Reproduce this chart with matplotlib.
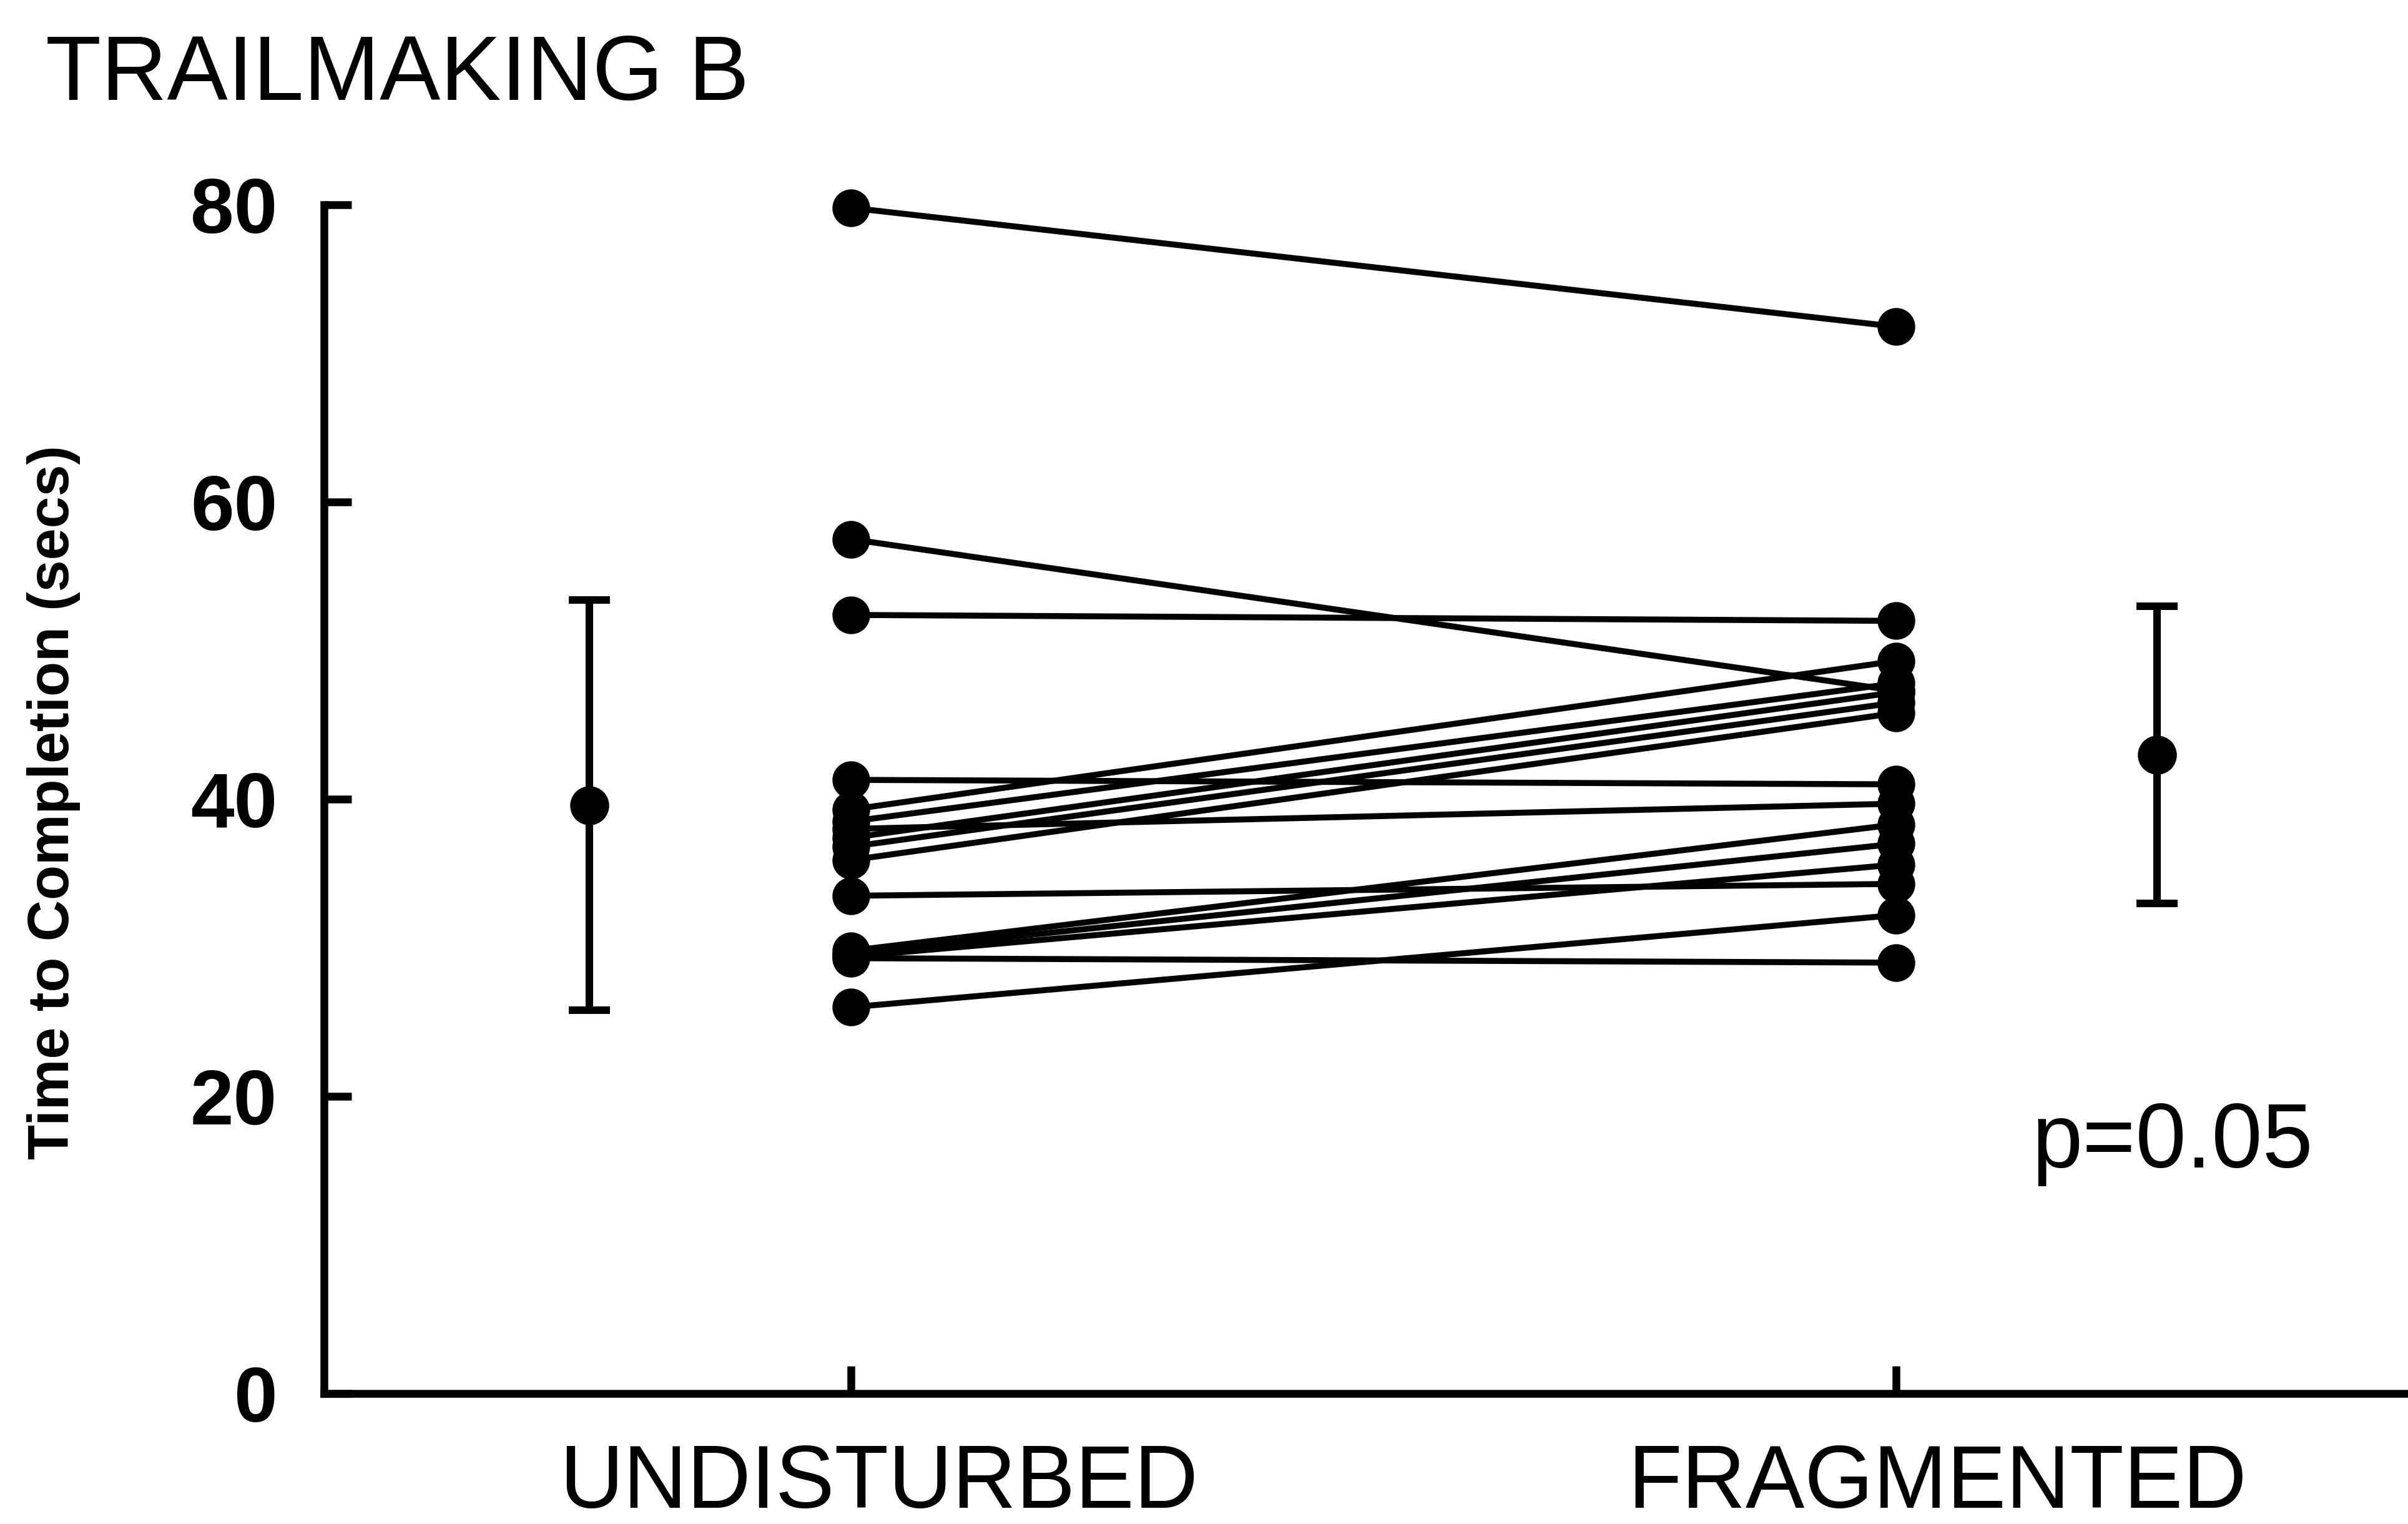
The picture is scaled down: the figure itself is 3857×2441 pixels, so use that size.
import matplotlib
matplotlib.use("Agg")
import matplotlib.pyplot as plt
import matplotlib.transforms as mtransforms

plt.rcParams['font.family'] = ['Liberation Sans', 'DejaVu Sans']

# ---- data ----
conditions = ["UNDISTURBED", "FRAGMENTED"]
undisturbed = [79.8, 57.5, 52.4, 41.3, 39.3, 38.5, 37.4, 36.8, 35.9, 38.0,
               33.5, 29.8, 29.6, 29.4, 29.3, 26.0]
fragmented = [71.8, 47.3, 52.0, 41.0, 49.3, 47.8, 47.2, 46.5, 45.8, 39.7,
              34.3, 38.3, 37.0, 35.6, 29.0, 32.2]
group_means = [39.6, 43.0]
group_sd = [13.8, 10.0]
yticks = [0, 20, 40, 60, 80]
title = "TRAILMAKING B"
ylabel = "Time to Completion (secs)"
p_text = "p=0.05"

# ---- figure ----
fig = plt.figure(figsize=(3857 / 300, 2441 / 300), dpi=300)
ax = fig.add_axes([0.1346, 0.0856, 1 - 0.1346, 0.78])

cond_x = [1, 2]
mean_x = [0.75, 2.25]

for u, f in zip(undisturbed, fragmented):
    ax.plot(cond_x, [u, f], color='black', lw=2.3, marker='o',
            markersize=14.5, markeredgewidth=0, clip_on=False, zorder=3)

ax.errorbar(mean_x, group_means, yerr=group_sd, fmt='none', ecolor='black',
            elinewidth=2.9, capsize=8, capthick=2.9, clip_on=False, zorder=3)
ax.plot(mean_x, group_means, linestyle='none', marker='o', color='black',
        markersize=15, markeredgewidth=0, clip_on=False, zorder=4)

ax.set_xlim(0.496, 2.49)
ax.set_ylim(0, 80)

for s in ['top', 'right']:
    ax.spines[s].set_visible(False)
for s in ['left', 'bottom']:
    ax.spines[s].set_linewidth(3.0)

ax.set_yticks(yticks)
ax.set_yticklabels([str(v) for v in yticks], fontsize=30, fontweight='bold')
ax.tick_params(axis='y', direction='in', length=10.5, width=3.0, pad=18)

ax.set_xticks(cond_x)
ax.set_xticklabels(conditions, fontsize=34)
ax.tick_params(axis='x', direction='in', length=10.5, width=3.0, pad=19)
offsets = [0.15, 0.22]
for lab, dx in zip(ax.get_xticklabels(), offsets):
    lab.set_transform(lab.get_transform() +
                      mtransforms.ScaledTranslation(dx, 0, fig.dpi_scale_trans))

ax.text(2.265, 15.2, p_text, fontsize=35, ha='center', va='baseline')

fig.text(0.019, 0.9345, title, fontsize=35, ha='left', va='baseline')
fig.text(0.0223, 0.4736, ylabel, fontsize=22, fontweight='bold',
         rotation=90, ha='center', va='center')

fig.savefig("out.png", dpi=300)
